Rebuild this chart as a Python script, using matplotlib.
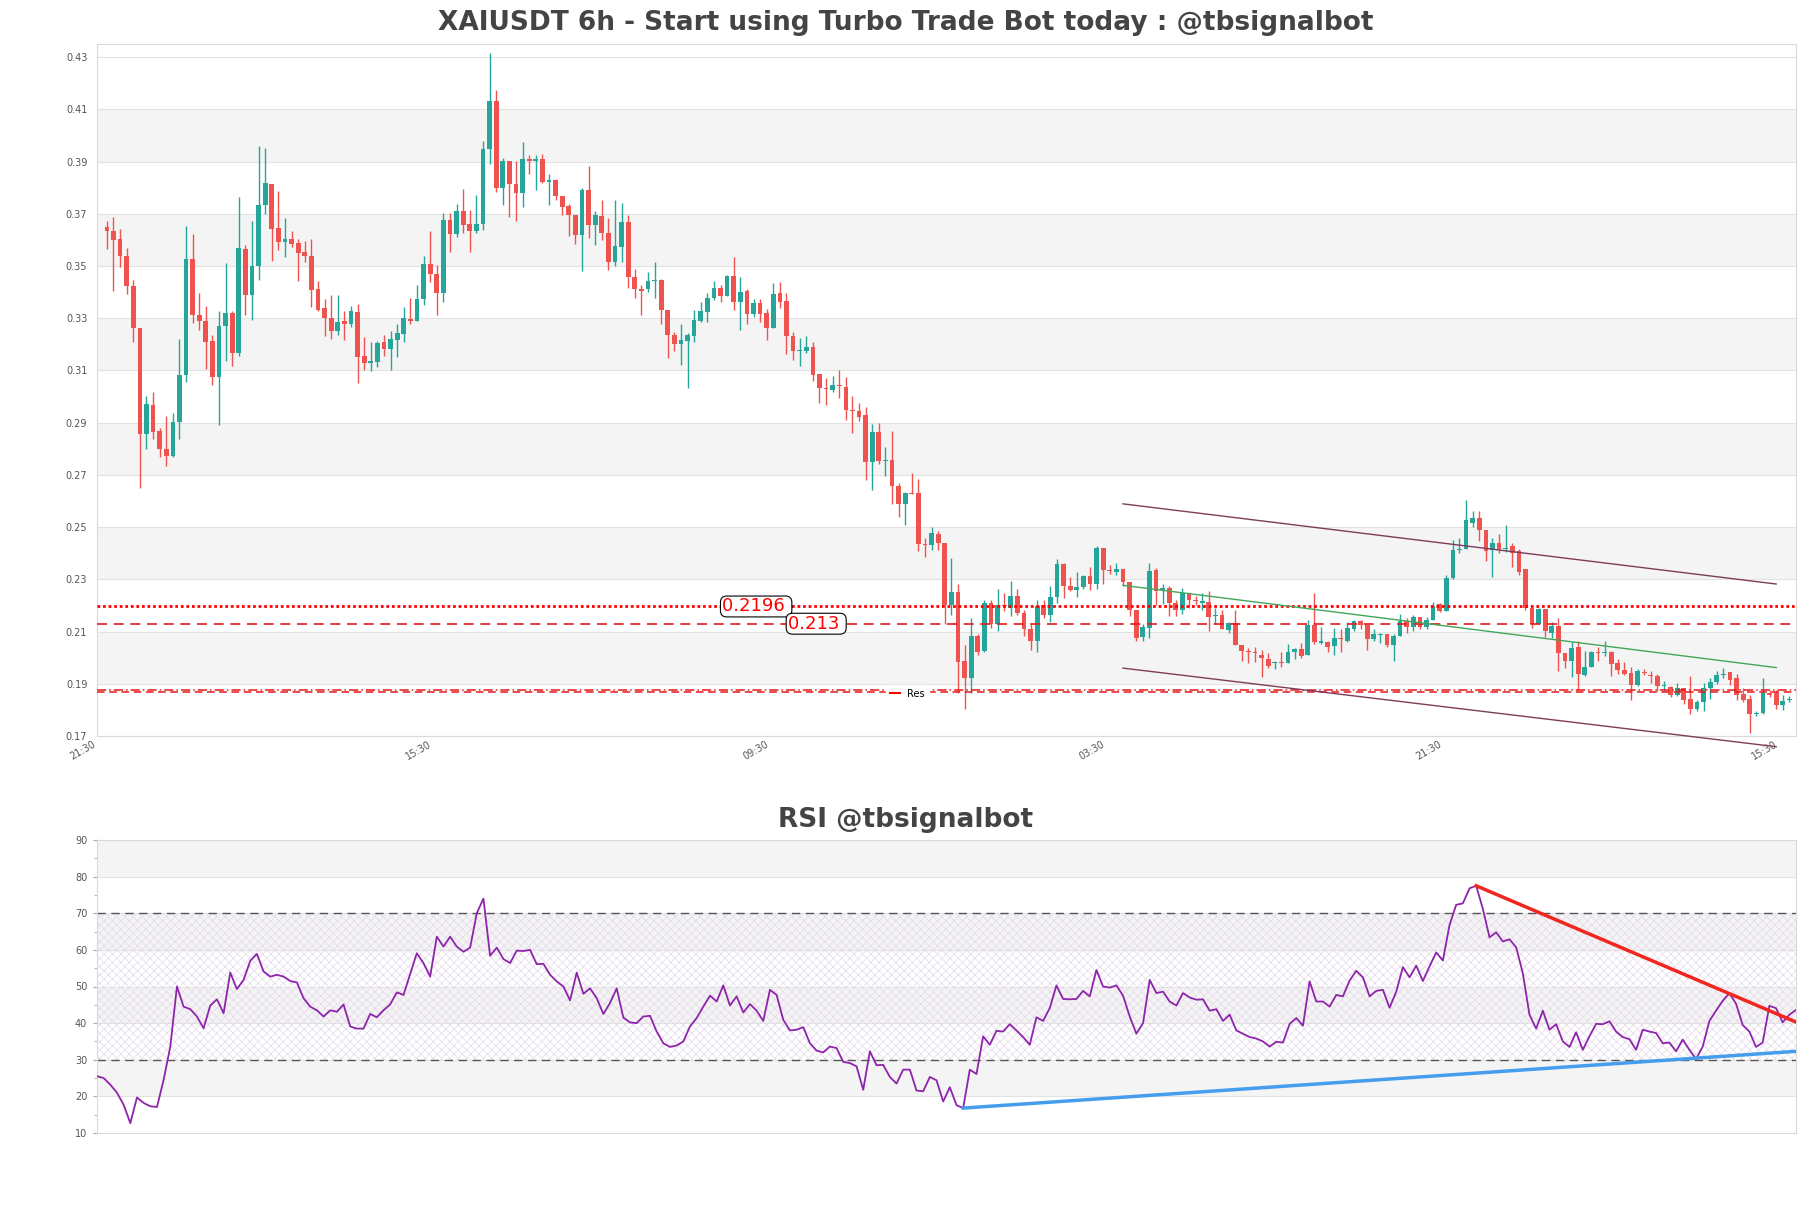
import numpy as np
import matplotlib
matplotlib.use('Agg')
import matplotlib.pyplot as plt
from matplotlib.lines import Line2D
from matplotlib.ticker import FormatStrFormatter, MultipleLocator

# 6h candles
opens = [
    .3651, .3632, .3602, .3540, .3422, .3262, .2855, .2966, .2869, .2798,
    .2773, .2903, .3084, .3527, .3311, .3289, .3212, .3075, .3269, .3319,
    .3166, .3565, .3390, .3500, .3735, .3815, .3644, .3590, .3605, .3588,
    .3554, .3540, .3411, .3338, .3302, .3252, .3290, .3279, .3323, .3155,
    .3128, .3132, .3208, .3182, .3216, .3241, .3297, .3290, .3375, .3509,
    .3469, .3398, .3675, .3621, .3709, .3659, .3633, .3659, .3946, .4132,
    .3800, .3901, .3812, .3778, .3910, .3903, .3910, .3823, .3830, .3769,
    .3729, .3697, .3617, .3791, .3655, .3691, .3628, .3514, .3574, .3668,
    .3456, .3411, .3411, .3442, .3447, .3330, .3234, .3202, .3212, .3230,
    .3288, .3324, .3379, .3415, .3386, .3460, .3361, .3406, .3317, .3357,
    .3321, .3263, .3397, .3366, .3230, .3173, .3173, .3189, .3086, .3032,
    .3025, .3046, .3037, .2947, .2945, .2929, .2748, .2864, .2752, .2757,
    .2658, .2589, .2631, .2631, .2435, .2430, .2472, .2439, .2201, .2251,
    .1987, .1921, .2083, .2024, .2210, .2128, .2201, .2192, .2237, .2170,
    .2110, .2065, .2201, .2165, .2231, .2360, .2273, .2260, .2269, .2313,
    .2282, .2421, .2336, .2327, .2340, .2291, .2183, .2078, .2114, .2336,
    .2260, .2267, .2210, .2183, .2246, .2222, .2210, .2213, .2158, .2165,
    .2107, .2132, .2047, .2024, .2020, .2011, .1993, .1978, .1982, .1980,
    .2020, .2034, .2011, .2125, .2058, .2060, .2043, .2074, .2065, .2110,
    .2141, .2125, .2071, .2087, .2089, .2047, .2083, .2141, .2119, .2155,
    .2116, .2146, .2204, .2179, .2305, .2414, .2417, .2517, .2535, .2490,
    .2414, .2439, .2417, .2426, .2408, .2340, .2192, .2128, .2188, .2096,
    .2123, .2016, .1987, .2042, .1933, .1966, .2020, .2016, .2020, .1980,
    .1953, .1942, .1897, .1946, .1933, .1930, .1890, .1888, .1857, .1884,
    .1843, .1803, .1830, .1884, .1905, .1935, .1944, .1921, .1861, .1843,
    .1785, .1787, .1866, .1866, .1818, .1837,
]
highs = [
    .3672, .3689, .3640, .3567, .3447, .3262, .3002, .3018, .2880, .2926,
    .2937, .3222, .3653, .3624, .3395, .3346, .3235, .3327, .3510, .3327,
    .3766, .3581, .3672, .3960, .3953, .3815, .3787, .3682, .3632, .3605,
    .3594, .3602, .3441, .3373, .3388, .3388, .3327, .3346, .3353, .3227,
    .3208, .3212, .3235, .3250, .3279, .3344, .3379, .3426, .3538, .3632,
    .3505, .3704, .3704, .3736, .3794, .3715, .3772, .3980, .4314, .4174,
    .3912, .3903, .3903, .3975, .3926, .3926, .3928, .3854, .3834, .3769,
    .3736, .3697, .3800, .3881, .3709, .3754, .3682, .3754, .3740, .3697,
    .3489, .3429, .3478, .3514, .3451, .3330, .3249, .3276, .3245, .3330,
    .3361, .3398, .3444, .3426, .3465, .3534, .3456, .3411, .3375, .3375,
    .3335, .3433, .3438, .3398, .3249, .3225, .3230, .3207, .3086, .3071,
    .3077, .3100, .3073, .3001, .2974, .2959, .2896, .2900, .2806, .2869,
    .2667, .2634, .2706, .2685, .2459, .2499, .2484, .2439, .2381, .2282,
    .2047, .2150, .2092, .2219, .2219, .2264, .2246, .2295, .2264, .2183,
    .2132, .2219, .2219, .2273, .2378, .2363, .2309, .2327, .2318, .2349,
    .2426, .2421, .2354, .2363, .2340, .2291, .2183, .2128, .2363, .2345,
    .2282, .2273, .2219, .2267, .2246, .2237, .2246, .2255, .2192, .2183,
    .2137, .2183, .2047, .2038, .2042, .2029, .2016, .1987, .2020, .2052,
    .2038, .2056, .2146, .2246, .2119, .2065, .2114, .2110, .2137, .2146,
    .2143, .2128, .2110, .2096, .2092, .2089, .2168, .2150, .2165, .2155,
    .2155, .2215, .2210, .2318, .2450, .2457, .2602, .2562, .2562, .2490,
    .2457, .2475, .2508, .2439, .2417, .2340, .2192, .2192, .2188, .2137,
    .2150, .2016, .2060, .2065, .2024, .2024, .2042, .2065, .2024, .1993,
    .1984, .1966, .1957, .1957, .1948, .1939, .1912, .1893, .1903, .1884,
    .1930, .1839, .1903, .1921, .1948, .1962, .1944, .1939, .1884, .1857,
    .1794, .1921, .1875, .1875, .1857, .1852,
]
lows = [
    .3565, .3403, .3495, .3392, .3208, .2651, .2798, .2836, .2769, .2735,
    .2769, .2836, .3056, .3281, .3256, .3107, .3046, .2890, .3136, .3117,
    .3155, .3311, .3294, .3447, .3699, .3519, .3561, .3533, .3571, .3441,
    .3514, .3342, .3327, .3233, .3222, .3235, .3218, .3266, .3050, .3103,
    .3098, .3113, .3155, .3103, .3151, .3209, .3276, .3290, .3351, .3438,
    .3312, .3362, .3552, .3610, .3628, .3552, .3628, .3637, .3890, .3785,
    .3733, .3686, .3673, .3727, .3854, .3791, .3818, .3733, .3751, .3697,
    .3613, .3583, .3480, .3606, .3579, .3601, .3483, .3501, .3516, .3417,
    .3379, .3312, .3402, .3379, .3279, .3149, .3176, .3122, .3032, .3209,
    .3285, .3285, .3371, .3362, .3384, .3330, .3254, .3276, .3306, .3285,
    .3218, .3263, .3339, .3162, .3140, .3117, .3167, .3059, .2977, .2968,
    .3017, .2996, .2909, .2860, .2905, .2679, .2643, .2743, .2697, .2589,
    .2540, .2508, .2625, .2408, .2387, .2412, .2412, .2128, .2164, .1866,
    .1803, .1866, .2011, .2020, .2114, .2101, .2179, .2161, .2165, .2083,
    .2029, .2020, .2150, .2137, .2210, .2228, .2255, .2231, .2264, .2258,
    .2264, .2282, .2322, .2318, .2273, .2161, .2065, .2065, .2074, .2201,
    .2204, .2161, .2161, .2168, .2192, .2201, .2183, .2101, .2128, .2110,
    .2096, .2047, .1987, .1980, .1984, .1926, .1962, .1957, .1966, .1980,
    .1993, .1998, .2011, .2052, .2052, .2020, .2011, .2020, .2060, .2101,
    .2110, .2029, .2065, .2056, .2042, .1987, .2083, .2096, .2101, .2110,
    .2110, .2143, .2174, .2179, .2300, .2399, .2417, .2499, .2448, .2372,
    .2309, .2399, .2403, .2349, .2318, .2183, .2114, .2128, .2078, .2074,
    .1948, .1962, .1926, .1875, .1930, .1966, .1987, .2007, .1930, .1939,
    .1933, .1839, .1893, .1933, .1903, .1872, .1872, .1848, .1854, .1821,
    .1785, .1794, .1794, .1843, .1900, .1921, .1897, .1839, .1830, .1713,
    .1776, .1785, .1848, .1803, .1798, .1830,
]
closes = [
    .3632, .3600, .3539, .3422, .3262, .2855, .2970, .2863, .2798, .2773,
    .2903, .3084, .3527, .3311, .3289, .3208, .3075, .3269, .3319, .3166,
    .3569, .3390, .3500, .3735, .3819, .3642, .3590, .3605, .3584, .3550,
    .3539, .3409, .3332, .3302, .3252, .3285, .3279, .3327, .3151, .3128,
    .3136, .3205, .3182, .3222, .3245, .3299, .3290, .3375, .3509, .3469,
    .3398, .3675, .3621, .3709, .3657, .3633, .3660, .3946, .4132, .3800,
    .3901, .3812, .3778, .3910, .3903, .3910, .3823, .3830, .3769, .3727,
    .3697, .3619, .3791, .3655, .3695, .3628, .3514, .3577, .3668, .3456,
    .3411, .3406, .3442, .3447, .3330, .3234, .3203, .3216, .3234, .3294,
    .3328, .3379, .3415, .3386, .3460, .3361, .3402, .3317, .3357, .3317,
    .3263, .3393, .3362, .3230, .3173, .3177, .3189, .3082, .3032, .3028,
    .3046, .3041, .2947, .2945, .2923, .2748, .2864, .2752, .2755, .2658,
    .2589, .2631, .2628, .2435, .2431, .2477, .2439, .2201, .2251, .1984,
    .1921, .2083, .2020, .2210, .2128, .2201, .2197, .2237, .2170, .2110,
    .2065, .2197, .2165, .2231, .2360, .2273, .2260, .2269, .2313, .2282,
    .2421, .2336, .2333, .2340, .2291, .2183, .2074, .2119, .2333, .2255,
    .2267, .2210, .2183, .2246, .2219, .2216, .2216, .2155, .2163, .2110,
    .2132, .2047, .2024, .2020, .2016, .1998, .1969, .1982, .1978, .2020,
    .2034, .2006, .2125, .2060, .2062, .2042, .2074, .2071, .2114, .2141,
    .2125, .2071, .2089, .2091, .2047, .2083, .2141, .2119, .2155, .2119,
    .2146, .2197, .2179, .2305, .2414, .2417, .2526, .2535, .2490, .2408,
    .2439, .2417, .2421, .2399, .2327, .2192, .2128, .2188, .2101, .2123,
    .2016, .1987, .2038, .1939, .1966, .2020, .2016, .2020, .1975, .1951,
    .1939, .1897, .1948, .1942, .1928, .1890, .1893, .1857, .1884, .1839,
    .1803, .1830, .1884, .1908, .1933, .1939, .1915, .1857, .1836, .1785,
    .1789, .1866, .1857, .1818, .1834, .1843,
]

rsi = [
    25.5, 25.0, 23.2, 21.0, 17.7, 12.7, 19.7, 18.2, 17.3, 17.1,
    24.5, 33.6, 50.0, 44.5, 43.8, 41.8, 38.6, 44.8, 46.5, 42.7,
    53.8, 49.3, 51.8, 57.0, 58.9, 54.1, 52.7, 53.2, 52.7, 51.5,
    51.1, 46.8, 44.5, 43.5, 41.8, 43.5, 43.1, 45.1, 39.1, 38.5,
    38.5, 42.5, 41.6, 43.5, 45.1, 48.4, 47.7, 53.4, 59.1, 56.4,
    52.7, 63.6, 60.9, 63.6, 60.9, 59.5, 60.6, 70.0, 74.0, 58.4,
    60.6, 57.5, 56.4, 59.8, 59.7, 60.0, 56.1, 56.2, 53.2, 51.4,
    50.0, 46.2, 53.8, 48.0, 49.5, 46.8, 42.5, 45.5, 49.5, 41.5,
    40.2, 40.0, 41.8, 42.0, 37.7, 34.5, 33.5, 33.9, 35.0, 39.1,
    41.4, 44.5, 47.5, 45.9, 50.3, 44.8, 47.3, 42.9, 45.2, 43.4,
    40.6, 49.1, 47.7, 40.9, 38.0, 38.2, 38.9, 34.5, 32.5, 32.0,
    33.6, 33.2, 29.4, 29.1, 28.2, 21.8, 32.3, 28.5, 28.6, 25.3,
    23.5, 27.3, 27.3, 21.6, 21.4, 25.3, 24.4, 18.6, 22.5, 17.6,
    16.8, 27.3, 26.1, 36.4, 34.1, 37.9, 37.7, 39.7, 38.0, 36.2,
    34.1, 41.6, 40.6, 44.1, 50.3, 46.6, 46.5, 46.6, 48.8, 47.3,
    54.5, 50.0, 49.7, 50.3, 47.5, 41.8, 37.1, 40.0, 51.8, 48.2,
    48.6, 45.9, 44.8, 48.2, 47.0, 46.4, 46.5, 43.4, 43.8, 40.6,
    42.3, 38.0, 37.1, 36.2, 35.8, 35.0, 33.6, 34.9, 34.7, 39.8,
    41.4, 39.3, 51.4, 45.9, 45.9, 44.5, 47.7, 47.3, 51.6, 54.3,
    52.5, 47.3, 48.8, 49.1, 44.2, 48.6, 55.3, 52.5, 55.7, 51.5,
    55.5, 59.3, 57.1, 66.8, 72.3, 72.7, 76.8, 77.5, 71.2, 63.4,
    64.8, 62.3, 62.9, 60.7, 53.6, 42.3, 38.5, 43.4, 38.2, 39.7,
    35.0, 33.5, 37.5, 32.7, 36.4, 39.8, 39.7, 40.5, 37.7, 36.2,
    35.6, 32.7, 38.2, 37.7, 37.3, 34.5, 34.7, 32.3, 35.5, 32.7,
    30.2, 33.6, 40.6, 43.4, 46.1, 48.2, 45.3, 39.5, 37.7, 33.5,
    34.7, 44.7, 44.1, 40.2, 42.3, 43.6,
]

tick_pos = [-1.5, 49.5, 100.5, 151.5, 202.5, 253.5]
tick_labels = ['21:30', '15:30', '09:30', '03:30', '21:30', '15:30']

level_hi = 0.2196
level_lo = 0.213
res_lines = [0.1868, 0.1875]

# channel drawn on price chart
chan_x = [154, 253]
chan_top = [0.2589, 0.2282]
chan_bot = [0.1960, 0.1659]
chan_mid = [0.2277, 0.1962]

# rsi trend lines
rsi_res_x = [207, 255]
rsi_res_y = [77.5, 40.3]
rsi_sup_x = [130, 255]
rsi_sup_y = [16.8, 32.3]

green = '#26a69a'
red = '#ef5350'
band = '#f4f4f4'
txt = '#555555'

W, H = 1811, 1208
fig = plt.figure(figsize=(W / 100, H / 100), dpi=100)

# ---------------- price panel
ax = fig.add_axes([97 / W, 1 - 736 / H, 1699 / W, 692 / H])
o = np.array(opens); h = np.array(highs); l = np.array(lows); c = np.array(closes)
x = np.arange(len(o))
cols = np.where(c >= o, green, red)

for lo in np.arange(0.19, 0.40, 0.04):
    ax.axhspan(lo, lo + 0.02, color=band, zorder=0, lw=0)
ax.vlines(x, l, h, colors=cols, lw=1.0, zorder=3)
ax.bar(x, np.maximum(np.abs(c - o), 0.0004), bottom=np.minimum(o, c),
       width=0.72, color=cols, zorder=4, linewidth=0)

ax.axhline(level_hi, color='red', ls=(0, (1, 1)), lw=2.0, zorder=5)
ax.axhline(level_lo, color='#e31a1c', ls=(0, (6, 4)), lw=1.2, zorder=5)
ax.axhline(res_lines[0], color='#e31a1c', ls=(0, (5, 3)), lw=1.1, zorder=5)
ax.axhline(res_lines[1], color='#e31a1c', ls=(0, (6, 2, 1, 2)), lw=1.1, zorder=5)

box = dict(boxstyle='round,pad=0.08,rounding_size=0.35', fc='white', ec='black', lw=0.8)
ax.text(98.4, level_hi, '0.2196 ', color='red', fontsize=13, ha='center', va='center',
        zorder=7, bbox=box)
ax.text(107.5, level_lo, '0.213 ', color='red', fontsize=13, ha='center', va='center',
        zorder=7, bbox=box)

ax.plot(chan_x, chan_top, color='#7d3c5a', lw=1.0, zorder=6, clip_on=False)
ax.plot(chan_x, chan_bot, color='#7d3c5a', lw=1.0, zorder=6, clip_on=False)
ax.plot(chan_x, chan_mid, color='#43a55a', lw=1.0, zorder=6, clip_on=False)

ax.set_xlim(-1, 256)
ax.set_ylim(0.17, 0.435)
ax.set_yticks(np.arange(0.17, 0.4301, 0.02))
ax.yaxis.set_major_formatter(FormatStrFormatter('%.2f'))
ax.grid(axis='y', color='#e2e2e2', lw=0.8, zorder=1)
ax.set_axisbelow(True)
ax.set_xticks(tick_pos)
ax.set_xticklabels(tick_labels, rotation=30, ha='right')
ax.tick_params(axis='both', length=0, labelsize=7, labelcolor=txt)
ax.tick_params(axis='y', pad=7)
ax.tick_params(axis='x', pad=2)
for s in ax.spines.values():
    s.set_color('#dadada')

leg = ax.legend([Line2D([], [], color='red', lw=1.5)], ['Res'], loc='center',
                bbox_to_anchor=(0.477, 0.061), fontsize=7, handlelength=1.0,
                handletextpad=0.8, borderpad=0.4, framealpha=1, fancybox=False)
leg.get_frame().set_edgecolor('white')
leg.set_zorder(8)

fig.text(0.5, 1 - 23 / H, 'XAIUSDT 6h - Start using Turbo Trade Bot today : @tbsignalbot',
         ha='center', va='center', fontsize=19, fontweight='bold', color='#444444')

# ---------------- rsi panel
ax2 = fig.add_axes([97 / W, 1 - 1133 / H, 1699 / W, 293 / H])
xr = np.arange(len(rsi))
for lo in [20, 40, 60, 80]:
    ax2.axhspan(lo, lo + 10, color=band, zorder=0, lw=0)
plt.rcParams['hatch.linewidth'] = 0.5
ax2.fill_between([0, len(rsi) - 1], 30, 70, facecolor='none', hatch='xxxx',
                 edgecolor='#e4d9ea', lw=0, zorder=1)
ax2.axhline(70, color='#555555', ls=(0, (6, 4)), lw=1.0, zorder=2)
ax2.axhline(30, color='#555555', ls=(0, (6, 4)), lw=1.0, zorder=2)
ax2.plot(xr, rsi, color='#8e24aa', lw=1.3, zorder=4)
ax2.plot(rsi_res_x, rsi_res_y, color='#f0261f', lw=2.5, zorder=5)
ax2.plot(rsi_sup_x, rsi_sup_y, color='#459ded', lw=2.5, zorder=5)

ax2.set_xlim(0, len(rsi) - 1)
ax2.set_ylim(10, 90)
ax2.yaxis.set_major_locator(MultipleLocator(10))
ax2.yaxis.set_minor_locator(MultipleLocator(5))
ax2.grid(axis='y', which='major', color='#e2e2e2', lw=0.8, zorder=1)
ax2.set_axisbelow(True)
ax2.set_xticks([])
ax2.tick_params(axis='y', which='major', length=3, color='#aaaaaa', labelsize=7, labelcolor=txt, pad=4)
ax2.tick_params(axis='y', which='minor', length=2, color='#aaaaaa')
for s in ax2.spines.values():
    s.set_color('#dadada')

fig.text(0.5, 1 - 820 / H, 'RSI @tbsignalbot', ha='center', va='center',
         fontsize=19, fontweight='bold', color='#444444')

fig.savefig('out.png', dpi=100)
